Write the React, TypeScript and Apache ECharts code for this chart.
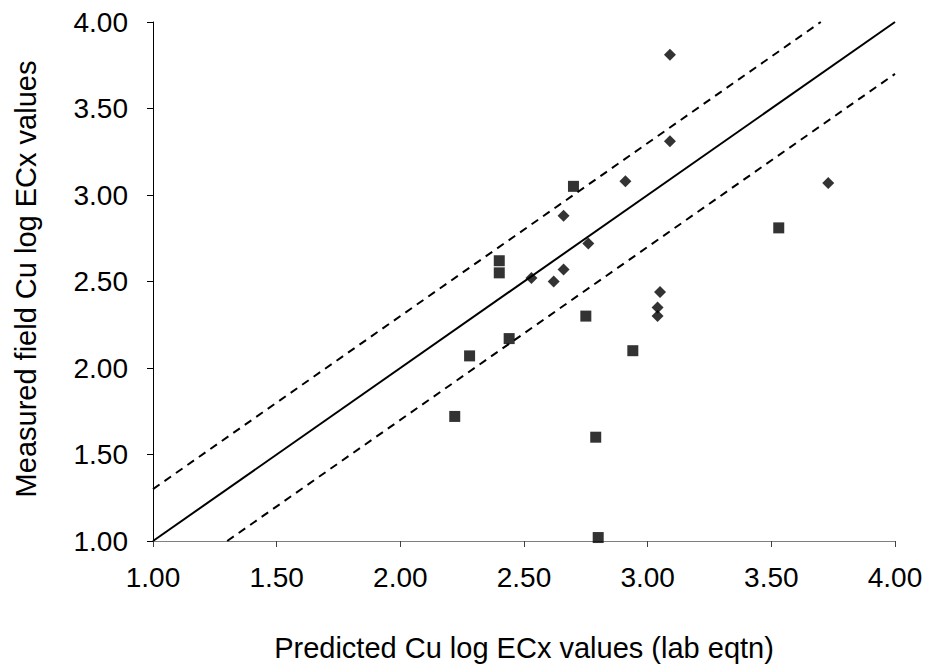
import React, { useEffect, useRef } from "react";
import * as echarts from "echarts";

const xTicks = [1.0, 1.5, 2.0, 2.5, 3.0, 3.5, 4.0];
const squaresX = [2.70, 2.40, 2.40, 2.75, 2.44, 2.28, 2.94, 2.22, 2.79, 3.53, 2.80];
const squaresY = [3.05, 2.62, 2.55, 2.30, 2.17, 2.07, 2.10, 1.72, 1.60, 2.81, 1.02];
const diamondsX = [3.09, 3.09, 2.91, 2.66, 2.76, 2.66, 2.53, 2.62, 3.05, 3.04, 3.04, 3.73];
const diamondsY = [3.81, 3.31, 3.08, 2.88, 2.72, 2.57, 2.52, 2.50, 2.44, 2.35, 2.30, 3.07];
const oneToOne = [[1.0, 1.0], [4.0, 4.0]];
const upperBand = [[1.0, 1.3], [3.7, 4.0]];
const lowerBand = [[1.3, 1.0], [4.0, 3.7]];
const xTitle = "Predicted Cu log ECx values (lab eqtn)";
const yTitle = "Measured field Cu log ECx values";

const FONT = "'Liberation Sans', Arial, sans-serif";

export default function App() {
  const ref = useRef<HTMLDivElement>(null);
  useEffect(() => {
    document.body.style.margin = "0";
    const chart = echarts.init(ref.current!, null, { renderer: "svg" });
    const fmt = (v: number) => v.toFixed(2);
    chart.setOption({
      animation: false,
      backgroundColor: "#ffffff",
      grid: { left: 153, right: 35, top: 22, bottom: 127, containLabel: false },
      xAxis: {
        type: "value",
        min: xTicks[0],
        max: xTicks[xTicks.length - 1],
        interval: 0.5,
        name: xTitle,
        nameLocation: "middle",
        nameGap: 92,
        nameTextStyle: { fontFamily: FONT, fontSize: 29, color: "#000" },
        axisLine: { show: true, onZero: false, lineStyle: { color: "#808080", width: 1 } },
        axisTick: { show: true, inside: false, length: 6, lineStyle: { color: "#404040", width: 1 } },
        axisLabel: { formatter: fmt, fontFamily: FONT, fontSize: 28, color: "#000", margin: 22 },
        splitLine: { show: false },
      },
      yAxis: {
        type: "value",
        min: 1.0,
        max: 4.0,
        interval: 0.5,
        axisLine: { show: true, onZero: false, lineStyle: { color: "#000", width: 1 } },
        axisTick: { show: true, inside: false, length: 6, lineStyle: { color: "#000", width: 1 } },
        axisLabel: { formatter: fmt, fontFamily: FONT, fontSize: 28, color: "#000", margin: 25 },
        splitLine: { show: false },
      },
      graphic: [
        {
          type: "text",
          x: 26,
          y: 279,
          rotation: Math.PI / 2,
          style: {
            text: yTitle,
            font: `29px ${FONT}`,
            fill: "#000",
            textAlign: "center",
            textVerticalAlign: "middle",
          },
        },
      ],
      series: [
        {
          type: "line",
          data: oneToOne,
          symbol: "none",
          lineStyle: { color: "#000", width: 2 },
          z: 2,
        },
        {
          type: "line",
          data: upperBand,
          symbol: "none",
          lineStyle: { color: "#000", width: 2, type: [8, 6] },
          z: 2,
        },
        {
          type: "line",
          data: lowerBand,
          symbol: "none",
          lineStyle: { color: "#000", width: 2, type: [8, 6] },
          z: 2,
        },
        {
          type: "scatter",
          data: squaresX.map((x, i) => [x, squaresY[i]]),
          symbol: "rect",
          symbolSize: 11,
          itemStyle: { color: "#000" },
          z: 3,
        },
        {
          type: "scatter",
          data: diamondsX.map((x, i) => [x, diamondsY[i]]),
          symbol: "diamond",
          symbolSize: 12,
          itemStyle: { color: "#000" },
          z: 3,
        },
      ],
    });
    return () => chart.dispose();
  }, []);
  return <div ref={ref} style={{ width: 930, height: 668 }} />;
}
